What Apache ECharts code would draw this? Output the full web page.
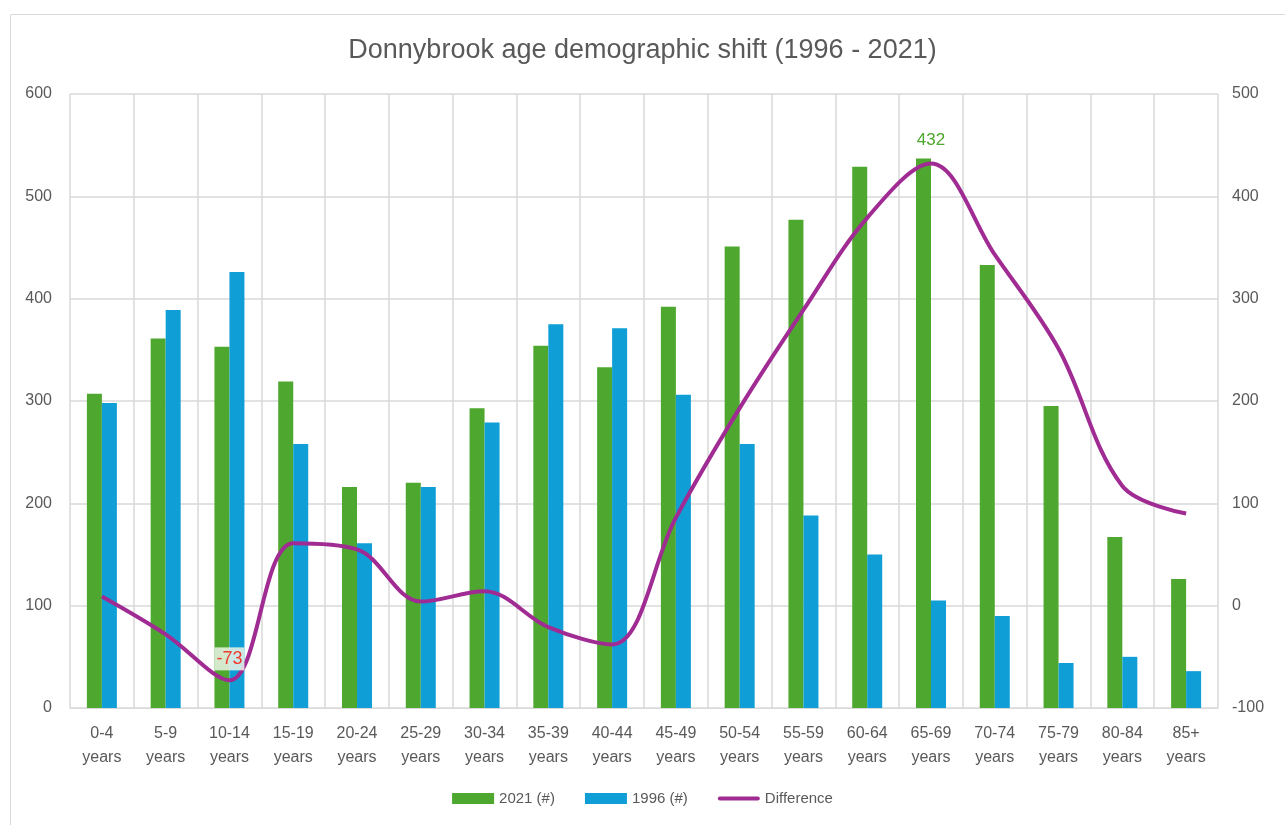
<!DOCTYPE html>
<html>
<head>
<meta charset="utf-8">
<script src="https://cdn.jsdelivr.net/npm/echarts@6/dist/echarts.min.js"></script>
<style>
html,body{margin:0;padding:0;background:#fff;}
#chart{width:1285px;height:825px;}
</style>
</head>
<body>
<div id="chart"></div>
<script>
const categories = ['0-4\nyears','5-9\nyears','10-14\nyears','15-19\nyears','20-24\nyears','25-29\nyears','30-34\nyears','35-39\nyears','40-44\nyears','45-49\nyears','50-54\nyears','55-59\nyears','60-64\nyears','65-69\nyears','70-74\nyears','75-79\nyears','80-84\nyears','85+\nyears'];
const values2021 = [307, 361, 353, 319, 216, 220, 293, 354, 333, 392, 451, 477, 529, 537, 433, 295, 167, 126];
const values1996 = [298, 389, 426, 258, 161, 216, 279, 375, 371, 306, 258, 188, 150, 105, 90, 44, 50, 36];
const difference = [9, -28, -73, 61, 55, 4, 14, -21, -38, 86, 193, 289, 379, 432, 343, 251, 117, 90];

const txt = '#595959';
const grid = '#d9d9d9';
const green = '#4ea72e';
const blue = '#0f9ed5';
const purple = '#a02b93';

const diffData = difference.map((v, i) => {
  if (i === 2) {
    return {value: v, label: {show: true, position: 'top', distance: 10, color: '#ee3b2f', fontSize: 18,
      backgroundColor: 'rgba(236,244,232,0.85)', padding: [3, 2, 2, 2]}};
  }
  if (i === 13) {
    return {value: v, label: {show: true, position: 'top', distance: 15, color: green, fontSize: 17}};
  }
  return v;
});

const chart = echarts.init(document.getElementById('chart'), null, {renderer: 'canvas'});
chart.setOption({
  animation: false,
  textStyle: {fontFamily: 'Liberation Sans, Arial, sans-serif'},
  graphic: [{
    type: 'rect', left: 8, top: 12, shape: {width: 1290, height: 830},
    style: {fill: 'none', stroke: '#d9d9d9', lineWidth: 1}, silent: true, z: -10
  }],
  title: {
    text: 'Donnybrook age demographic shift (1996 - 2021)',
    left: 'center', top: 32,
    textStyle: {color: txt, fontSize: 27, fontWeight: 'normal', fontFamily: 'Liberation Sans, Arial'}
  },
  legend: {
    bottom: 14, left: 'center', itemGap: 30, itemWidth: 42, itemHeight: 11,
    textStyle: {color: txt, fontSize: 15},
    data: [
      {name: '2021 (#)', icon: 'rect'},
      {name: '1996 (#)', icon: 'rect'},
      {name: 'Difference', icon: 'path://M2,3.5 L40,3.5 A2,2 0 0 1 40,7.5 L2,7.5 A2,2 0 0 1 2,3.5 Z'}
    ]
  },
  grid: {left: 70, right: 67, top: 94, bottom: 117, containLabel: false},
  xAxis: {
    type: 'category', data: categories, boundaryGap: true,
    axisLine: {lineStyle: {color: grid, width: 1}},
    axisTick: {show: false},
    splitLine: {show: true, interval: 0, lineStyle: {color: grid, width: 1.5}},
    axisLabel: {color: txt, fontSize: 16, lineHeight: 24, margin: 14, interval: 0}
  },
  yAxis: [{
    type: 'value', min: 0, max: 600, interval: 100,
    axisLine: {show: false}, axisTick: {show: false},
    splitLine: {lineStyle: {color: grid, width: 1.5}},
    axisLabel: {color: txt, fontSize: 16, margin: 18, align: 'right'}
  }, {
    type: 'value', min: -100, max: 500, interval: 100,
    axisLine: {show: false}, axisTick: {show: false},
    splitLine: {show: false},
    axisLabel: {color: txt, fontSize: 16, margin: 14}
  }],
  series: [{
    name: '2021 (#)', type: 'bar', data: values2021, yAxisIndex: 0,
    barWidth: 15, barGap: '0%', itemStyle: {color: green}
  }, {
    name: '1996 (#)', type: 'bar', data: values1996, yAxisIndex: 0,
    barWidth: 15, barGap: '0%', itemStyle: {color: blue}
  }, {
    name: 'Difference', type: 'line', data: diffData, yAxisIndex: 1,
    smooth: 0.35, showSymbol: true, symbol: 'circle', symbolSize: 0.01,
    lineStyle: {color: purple, width: 4}, itemStyle: {color: purple}, z: 5
  }]
});
</script>
</body>
</html>
